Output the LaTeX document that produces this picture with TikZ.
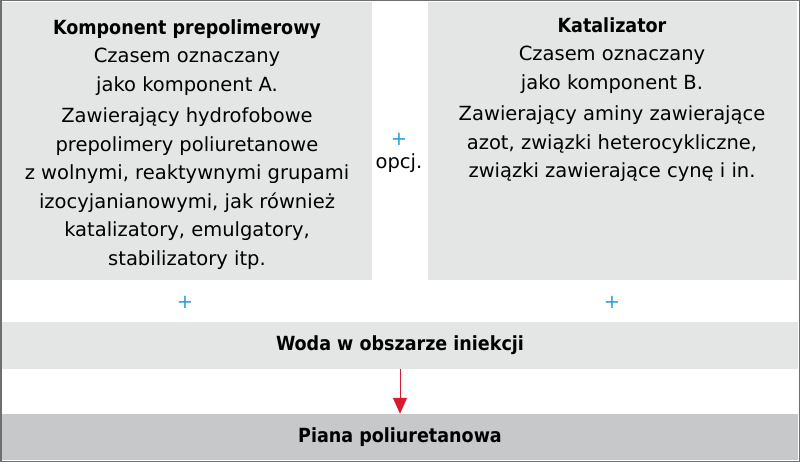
\documentclass[tikz,border=0pt]{standalone}
\usepackage{fontspec}
\setmainfont{DejaVu Sans}
\newfontfamily\condfont{DejaVu Sans Condensed}
\usetikzlibrary{arrows.meta,positioning}
\definecolor{boxgray}{HTML}{E4E5E5}
\definecolor{foamgray}{HTML}{C7C8C9}
\definecolor{framegray}{HTML}{6E6F71}
\definecolor{plusblue}{HTML}{2A9FD8}
\definecolor{arrowred}{HTML}{D51C2E}

\begin{document}
\begin{tikzpicture}[x=1pt,y=-1pt,
  comp box/.style={fill=boxgray,draw=none,inner sep=0pt,anchor=north west},
  band/.style={draw=none,inner sep=0pt,minimum width=796pt,minimum height=47pt,
    font=\condfont\bfseries\fontsize{19.5}{24}\selectfont},
  comp text/.style={inner sep=0pt,anchor=north,align=center,
    font=\fontsize{19.5}{28.5}\selectfont},
  plus sign/.style={inner sep=0pt,text=plusblue,font=\fontsize{19.5}{24}\selectfont}]

  \useasboundingbox (0,0) rectangle (800,462);

  % the two components
  \node[comp box,minimum width=370pt,minimum height=278pt] (boxA) at (2,2) {};
  \node[comp box,minimum width=369pt,minimum height=278pt] (boxB) at (428,2) {};
  \node[comp text] (textA) at (187,19) {{\condfont\bfseries Komponent prepolimerowy}\\
    Czasem oznaczany\\
    jako komponent A.\\[3pt]
    Zawierający hydrofobowe\\
    prepolimery poliuretanowe\\
    z wolnymi, reaktywnymi grupami\\
    izocyjanianowymi, jak również\\
    katalizatory, emulgatory,\\
    stabilizatory itp.};
  \node[comp text] (textB) at (612,17) {{\condfont\bfseries Katalizator}\\
    Czasem oznaczany\\
    jako komponent B.\\[3pt]
    Zawierający aminy zawierające\\
    azot, związki heterocykliczne,\\
    związki zawierające cynę i in.};

  % plus signs
  \node[plus sign] (plusAB) at (399,139) {+};
  \node[inner sep=0pt,font=\fontsize{19.5}{24}\selectfont] (opt) at (399,163) {opcj.};
  \node[plus sign] (plusA) at (185,302) {+};
  \node[plus sign] (plusB) at (612,302) {+};

  % water and foam
  \node[band,fill=boxgray] (water) at (400,345.5) {Woda w obszarze iniekcji};
  \node[band,fill=foamgray,minimum height=46pt] (foam) at (400,437) {Piana poliuretanowa};
  \draw[arrowred,line width=1pt,-{Triangle[width=14pt,length=16pt]}] (water.south) -- (foam.north);

  % frame
  \draw[framegray,line width=1.5pt] (0.75,0.75) rectangle (799.25,461.25);
\end{tikzpicture}
\end{document}
